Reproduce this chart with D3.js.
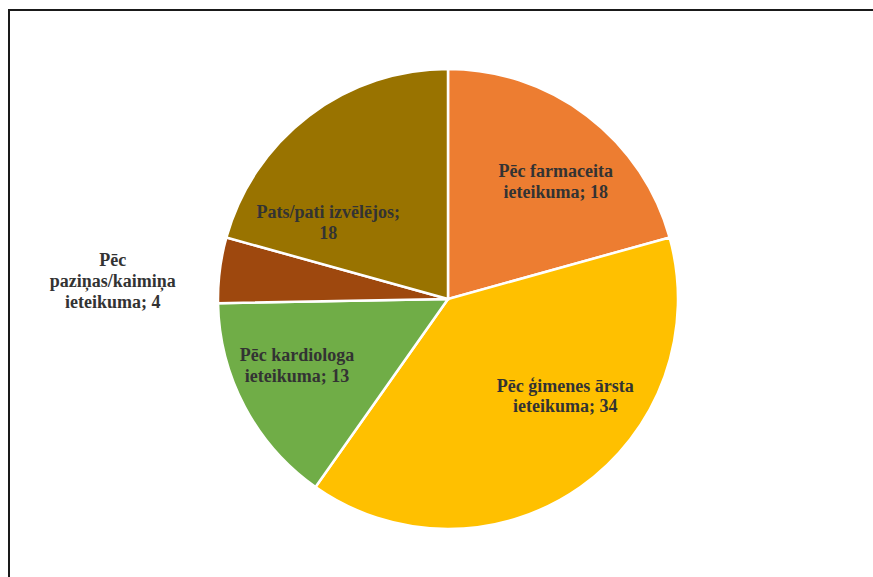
<!DOCTYPE html>
<html>
<head>
<meta charset="utf-8">
<script src="https://cdn.jsdelivr.net/npm/d3@7"></script>
<style>
  body { margin: 0; background: #fff; }
  svg { display: block; }
</style>
</head>
<body>
<div id="chart"></div>
<script>
const width = 873
const height = 577

/* Data */
const categories = [
    ['Pēc farmaceita', 'ieteikuma; 18'],
    ['Pēc ģimenes ārsta', 'ieteikuma; 34'],
    ['Pēc kardiologa', 'ieteikuma; 13'],
    ['Pēc', 'paziņas/kaimiņa', 'ieteikuma; 4'],
    ['Pats/pati izvēlējos;', '18']
]
const values = [18, 34, 13, 4, 18]
const colors = ['#ED7D31', '#FFC000', '#70AD47', '#9E480E', '#997300']

/* label nudges away from the centroid (Excel best fit) */
const labelShift = [[14, 6], [28, -30], [-14, -6], [0, 0], [-26, 47]]

const cx = 448, cy = 299, r = 230

const svg = d3.select('#chart').append('svg').attr('width', width).attr('height', height)

/* frame, only top/left edges visible in the crop */
svg.append('rect')
    .attr('x', 9).attr('y', 10)
    .attr('width', 900).attr('height', 600)
    .attr('fill', 'none')
    .attr('stroke', '#1a1a1a')
    .attr('stroke-width', 2)

const pie = d3.pie().sort(null).value(d => d)
const arcs = pie(values)
const arc = d3.arc().innerRadius(0).outerRadius(r)
const labelArc = d3.arc().innerRadius(155).outerRadius(155)

const chart = svg.append('g').attr('transform', `translate(${[cx, cy]})`)

chart.selectAll('path')
    .data(arcs)
    .join('path')
    .attr('d', arc)
    .attr('fill', (d, i) => colors[i])
    .attr('stroke', '#fff')
    .attr('stroke-width', 2.5)

const labels = chart.selectAll('text.lbl')
    .data(arcs)
    .join('text')
    .attr('class', 'lbl')
    .attr('text-anchor', 'middle')
    .attr('font-family', '"Liberation Serif", "Times New Roman", serif')
    .attr('font-weight', 'bold')
    .attr('font-size', '18px')
    .attr('fill', '#333')
    .attr('transform', (d, i) => {
        if (i === 3) {
            // small slice: label sits outside to the left
            const a = (d.startAngle + d.endAngle) / 2
            return `translate(${[-(r + 108) * Math.abs(Math.sin(a)), -18]})`
        }
        const c = labelArc.centroid(d)
        return `translate(${[c[0] + labelShift[i][0], c[1] + labelShift[i][1]]})`
    })

labels.each(function (d, i) {
    const lines = categories[i]
    const t = d3.select(this)
    const off = -(lines.length - 1) * 21 / 2
    lines.forEach((s, j) => {
        t.append('tspan')
            .attr('x', 0)
            .attr('y', off + j * 21)
            .attr('dy', '0.35em')
            .text(s)
    })
})
</script>
</body>
</html>
